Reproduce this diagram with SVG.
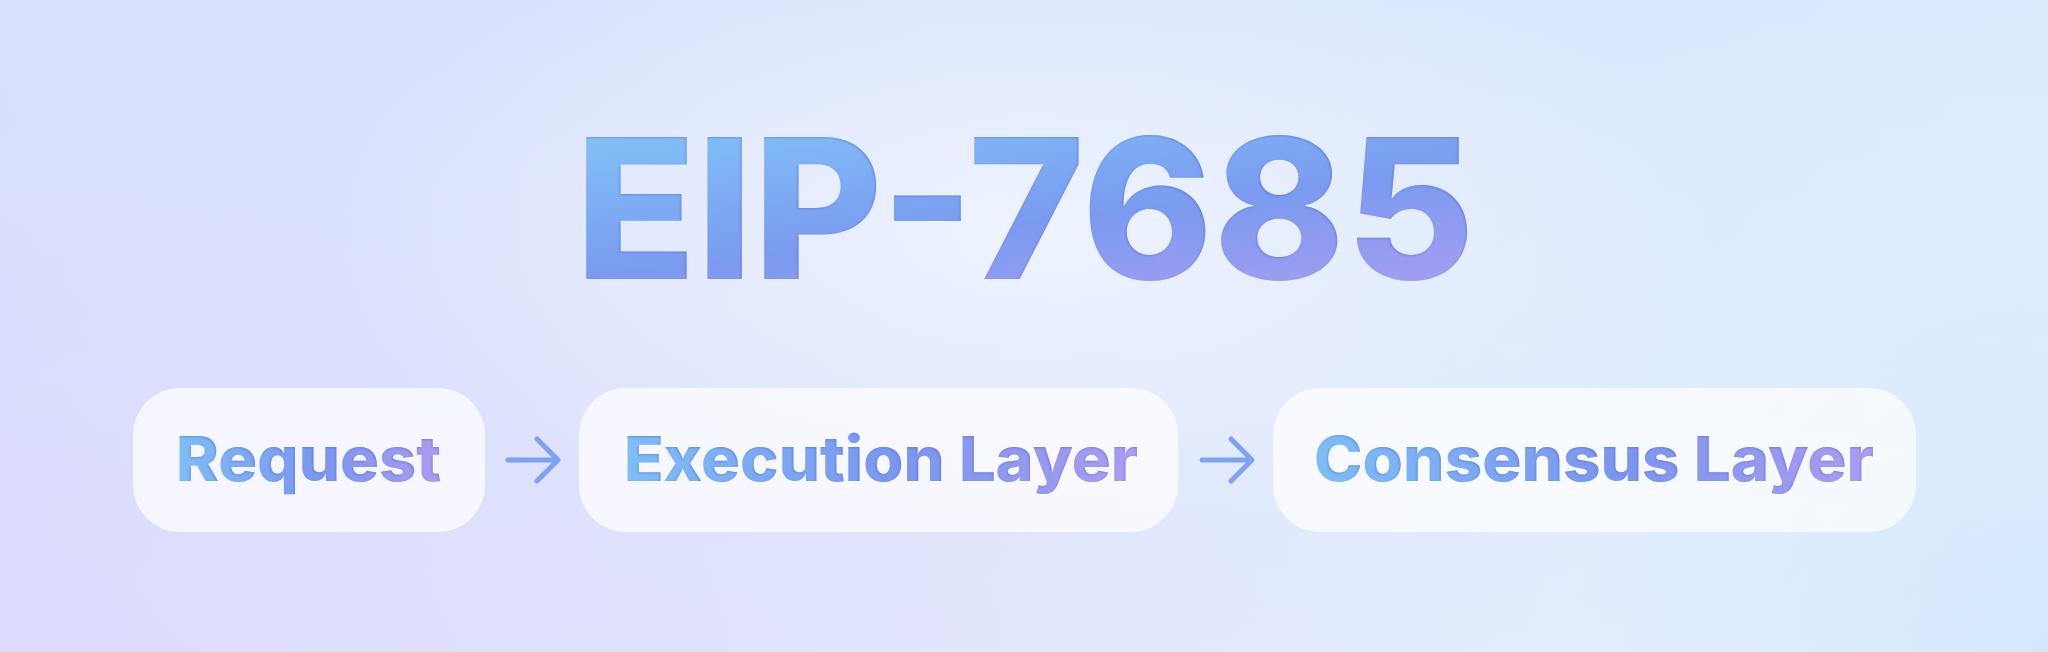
<svg xmlns="http://www.w3.org/2000/svg" width="2048" height="652" viewBox="0 0 2048 652">
  <defs>
    <linearGradient id="bg" x1="0" y1="652" x2="2048" y2="0" gradientUnits="userSpaceOnUse">
      <stop offset="0" stop-color="#dcdafd"/>
      <stop offset="0.45" stop-color="#e2e6fd"/>
      <stop offset="1" stop-color="#e6f6ff"/>
    </linearGradient>
    <linearGradient id="bg2" x1="0" y1="0" x2="0" y2="652" gradientUnits="userSpaceOnUse">
      <stop offset="0" stop-color="#d3e2fd" stop-opacity="0.6"/>
      <stop offset="1" stop-color="#d3e2fd" stop-opacity="0"/>
    </linearGradient>
    <radialGradient id="glow" cx="1024" cy="230" r="700" gradientUnits="userSpaceOnUse" gradientTransform="translate(1024 230) scale(1 0.45) translate(-1024 -230)">
      <stop offset="0" stop-color="#f2f6ff" stop-opacity="0.8"/>
      <stop offset="1" stop-color="#f2f6ff" stop-opacity="0"/>
    </radialGradient>
    <radialGradient id="brc" cx="2048" cy="652" r="500" gradientUnits="userSpaceOnUse">
      <stop offset="0" stop-color="#d3e6fd" stop-opacity="0.9"/>
      <stop offset="1" stop-color="#d3e6fd" stop-opacity="0"/>
    </radialGradient>
    <linearGradient id="gTitle" x1="586" y1="138" x2="624" y2="445" gradientUnits="userSpaceOnUse">
      <stop offset="0" stop-color="#82c0f7"/>
      <stop offset="0.45" stop-color="#7a9af0"/>
      <stop offset="0.85" stop-color="#ab9ef1"/>
    </linearGradient>
    <linearGradient id="g1" x1="176" y1="0" x2="441" y2="0" gradientUnits="userSpaceOnUse">
      <stop offset="0" stop-color="#7dbdf6"/>
      <stop offset="0.55" stop-color="#7a96ef"/>
      <stop offset="1" stop-color="#ab9cf1"/>
    </linearGradient>
    <linearGradient id="g2" x1="624" y1="0" x2="1138" y2="0" gradientUnits="userSpaceOnUse">
      <stop offset="0" stop-color="#7dbdf6"/>
      <stop offset="0.55" stop-color="#7a96ef"/>
      <stop offset="1" stop-color="#ab9cf1"/>
    </linearGradient>
    <linearGradient id="g3" x1="1314" y1="0" x2="1874" y2="0" gradientUnits="userSpaceOnUse">
      <stop offset="0" stop-color="#7dbdf6"/>
      <stop offset="0.55" stop-color="#7a96ef"/>
      <stop offset="1" stop-color="#ab9cf1"/>
    </linearGradient>
    <filter id="inner" x="-5%" y="-20%" width="110%" height="140%">
      <feGaussianBlur in="SourceAlpha" stdDeviation="1.2" result="b"/>
      <feOffset dx="-1" dy="1" result="o"/>
      <feComposite in="SourceAlpha" in2="o" operator="out" result="edge"/>
      <feFlood flood-color="#4c5fd6" flood-opacity="0.55"/>
      <feComposite in2="edge" operator="in" result="sh"/>
      <feMerge>
        <feMergeNode in="SourceGraphic"/>
        <feMergeNode in="sh"/>
      </feMerge>
    </filter>
  </defs>
  <style>
    .title { font-family: Inter, "Noto Sans", sans-serif; font-weight: 800; font-size: 195px; }
    .lbl { font-family: Inter, "Noto Sans", sans-serif; font-weight: 800; font-size: 62px; }
    .box { fill: #ffffff; fill-opacity: 0.72; }
    .arrow { fill: none; stroke: #7ea2f3; stroke-width: 5; stroke-linecap: round; stroke-linejoin: round; }
  </style>

  <rect width="2048" height="652" fill="url(#bg)"/>
  <rect width="2048" height="652" fill="url(#bg2)"/>
  <rect width="2048" height="652" fill="url(#brc)"/>
  <rect width="2048" height="652" fill="url(#glow)"/>

  <g id="title">
    <text class="title" x="575" y="279" textLength="900" lengthAdjust="spacingAndGlyphs" fill="url(#gTitle)" filter="url(#inner)">EIP-7685</text>
  </g>

  <g id="node-request">
    <rect class="box" x="133" y="388" width="352" height="144" rx="47"/>
    <text class="lbl" x="176" y="481" textLength="265" lengthAdjust="spacingAndGlyphs" fill="url(#g1)" filter="url(#inner)">Request</text>
  </g>

  <g id="node-execution">
    <rect class="box" x="579" y="388" width="599" height="144" rx="47"/>
    <text class="lbl" x="624" y="481" textLength="514" lengthAdjust="spacingAndGlyphs" fill="url(#g2)" filter="url(#inner)">Execution Layer</text>
  </g>

  <g id="node-consensus">
    <rect class="box" x="1273" y="388" width="643" height="144" rx="47"/>
    <text class="lbl" x="1314" y="481" textLength="560" lengthAdjust="spacingAndGlyphs" fill="url(#g3)" filter="url(#inner)">Consensus Layer</text>
  </g>

  <g id="connectors">
    <path class="arrow" d="M508 460 H557 M537 439 L558 460 L537 481"/>
    <path class="arrow" d="M1202 460 H1251 M1231 439 L1252 460 L1231 481"/>
  </g>
</svg>
